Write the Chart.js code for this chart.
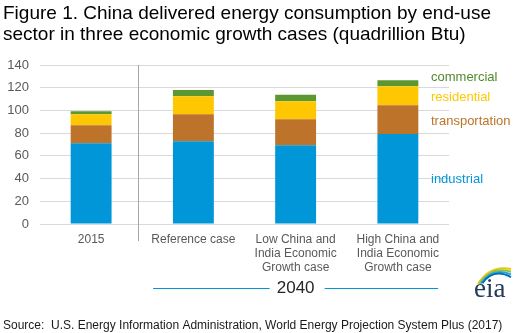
<!DOCTYPE html>
<html>
<head>
<meta charset="utf-8">
<script src="https://cdn.jsdelivr.net/npm/chart.js@4"></script>
<style>
  html, body { margin: 0; padding: 0; background: #fff; }
  #wrap { position: relative; width: 520px; height: 333px; }
</style>
</head>
<body>
<div id="wrap"><canvas id="grafico" width="520" height="333"></canvas></div>
<script>
// categorias e valores (quadrilhões de Btu)
const categorias = [['2015'], ['Reference case'], ['Low China and', 'India Economic', 'Growth case'], ['High China and', 'India Economic', 'Growth case']];
const industrial = [71.2, 72.9, 69.4, 79.3];
const transportation = [15.8, 23.8, 22.9, 25.3];
const residential = [9.7, 15.8, 15.8, 16.7];
const commercial = [2.6, 5.5, 5.6, 5.2];
const yTicks = [0, 20, 40, 60, 80, 100, 120, 140];

const cores = {
    industrial: '#0096d7',
    transportation: '#bd732a',
    residential: '#ffc702',
    commercial: '#5d9732'
};

// rótulos da legenda ao lado direito (posição em valor do eixo y)
const rotulos = [
    { texto: 'commercial', valor: 129, cor: '#4f8a2b' },
    { texto: 'residential', valor: 111.5, cor: '#ffc702' },
    { texto: 'transportation', valor: 90.5, cor: '#bd732a' },
    { texto: 'industrial', valor: 39.5, cor: '#0096d7' }
];

const FONTE = '"Liberation Sans", Arial, sans-serif';

const extras = {
    id: 'extras',
    afterDraw(chart) {
        const ctx = chart.ctx;
        const x = chart.scales.x;
        const y = chart.scales.y;
        ctx.save();

        // título
        ctx.fillStyle = '#000';
        ctx.font = '19px ' + FONTE;
        ctx.textBaseline = 'alphabetic';
        ctx.textAlign = 'left';
        ctx.fillText('Figure 1. China delivered energy consumption by end-use', 3, 19);
        ctx.fillText('sector in three economic growth cases (quadrillion Btu)', 3, 40);

        // linha separadora entre 2015 e 2040
        const sepX = Math.round((x.getPixelForValue(0) + x.getPixelForValue(1)) / 2 - 4) + 0.5;
        ctx.strokeStyle = '#a6a6a6';
        ctx.lineWidth = 1;
        ctx.beginPath();
        ctx.moveTo(sepX, y.getPixelForValue(140));
        ctx.lineTo(sepX, 241);
        ctx.stroke();

        // rótulos das séries
        ctx.font = '13px ' + FONTE;
        ctx.textBaseline = 'middle';
        rotulos.forEach(r => {
            ctx.fillStyle = r.cor;
            ctx.fillText(r.texto, 431, y.getPixelForValue(r.valor));
        });

        // 2040 com linhas
        const cx = x.getPixelForValue(2);
        const meia = 142.5;
        ctx.font = '17px ' + FONTE;
        ctx.fillStyle = '#262626';
        ctx.textAlign = 'center';
        ctx.fillText('2040', cx, 288);
        ctx.strokeStyle = '#0096d7';
        ctx.beginPath();
        ctx.moveTo(cx - meia, 288.5);
        ctx.lineTo(cx - 26, 288.5);
        ctx.moveTo(cx + 29, 288.5);
        ctx.lineTo(cx + meia, 288.5);
        ctx.stroke();

        // fonte
        ctx.textAlign = 'left';
        ctx.font = '12px ' + FONTE;
        ctx.fillStyle = '#1a1a1a';
        ctx.fillText('Source:  U.S. Energy Information Administration, World Energy Projection System Plus (2017)', 3, 326);

        // logo eia
        const arcos = [['#f2c500', 0], ['#8cc63f', 3], ['#2fa4dc', 6], ['#0071bb', 9]];
        ctx.lineWidth = 2;
        arcos.forEach(([cor, d]) => {
            ctx.strokeStyle = cor;
            ctx.beginPath();
            ctx.moveTo(478 + d * 0.5, 284 - d * 0.1);
            ctx.quadraticCurveTo(490 + d * 0.4, 265 + d * 0.3, 511, 269 + d * 0.9);
            ctx.stroke();
        });
        ctx.fillStyle = '#243b5c';
        ctx.font = '27px "Liberation Serif", "DejaVu Serif", serif';
        ctx.textBaseline = 'alphabetic';
        ctx.fillText('eia', 474, 297);

        ctx.restore();
    }
};

new Chart(document.getElementById('grafico').getContext('2d'), {
    type: 'bar',
    data: {
        labels: categorias,
        datasets: [
            { label: 'industrial', data: industrial, backgroundColor: cores.industrial },
            { label: 'transportation', data: transportation, backgroundColor: cores.transportation },
            { label: 'residential', data: residential, backgroundColor: cores.residential },
            { label: 'commercial', data: commercial, backgroundColor: cores.commercial }
        ]
    },
    options: {
        responsive: false,
        animation: false,
        layout: { padding: { top: 65, right: 71, left: 0, bottom: 0 } },
        datasets: { bar: { barPercentage: 0.4, categoryPercentage: 1, borderWidth: 0 } },
        plugins: { legend: { display: false }, tooltip: { enabled: false } },
        scales: {
            x: {
                stacked: true,
                grid: { display: false },
                border: { display: false },
                ticks: { color: '#595959', font: { family: FONTE, size: 12, lineHeight: 1.2 }, padding: 0, maxRotation: 0, autoSkip: false },
                afterFit(s) { s.height = 109; }
            },
            y: {
                stacked: true,
                min: 0,
                max: 140,
                afterBuildTicks(s) { s.ticks = yTicks.map(v => ({ value: v })); },
                grid: { color: '#d9d9d9', drawTicks: false },
                border: { display: false },
                ticks: { color: '#595959', font: { family: FONTE, size: 13 }, padding: 11 },
                afterFit(s) { s.width = 40; }
            }
        }
    },
    plugins: [extras]
});
</script>
</body>
</html>
